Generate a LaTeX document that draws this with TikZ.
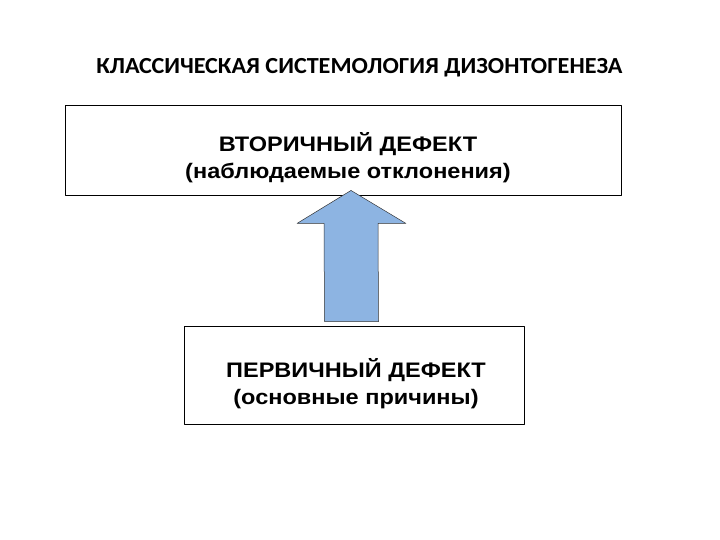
\documentclass[tikz,border=0pt]{standalone}
\usepackage{xcolor}
\usepackage{tikz}
\usepackage{fontspec}
\setmainfont{Liberation Sans}
\newfontfamily\titlefont[FakeStretch=1.05]{Carlito}
\newfontfamily\boxfont[FakeStretch=1.12]{Liberation Sans}
\usetikzlibrary{calc}
\definecolor{bluefill}{rgb}{0.553,0.706,0.886}
\definecolor{lineblk}{rgb}{0.,0.,0.}
\tikzstyle{every node}=[font=\boxfont\bfseries\fontsize{21}{27}\selectfont]
\tikzstyle{box}=[draw=lineblk,line width=0.9pt,inner sep=0pt]
\tikzstyle{boxtext}=[align=center,inner sep=0pt]

\begin{document}
\begin{tikzpicture}[line cap=round,line join=round,x=1pt,y=-1pt]
                    \useasboundingbox [fill=white] (0,0) rectangle (720,540);
                    \node [font=\titlefont\bfseries\fontsize{23}{26}\selectfont] (title) at (359.5,67.5) {КЛАССИЧЕСКАЯ СИСТЕМОЛОГИЯ ДИЗОНТОГЕНЕЗА};
                    \node [box,minimum width=556pt,minimum height=90pt] (secondary) at (343,150) {};
                    \node [boxtext] (secondarytext) at ($(secondary.center)+(5,8)$) {ВТОРИЧНЫЙ ДЕФЕКТ\\(наблюдаемые отклонения)};
                    \node [box,minimum width=340pt,minimum height=98pt] (primary) at (354,375) {};
                    \node [boxtext] (primarytext) at ($(primary.center)+(2,9)$) {ПЕРВИЧНЫЙ ДЕФЕКТ\\(основные причины)};
                    \coordinate (tail) at ($(primary.north)+(-2.5,-4)$);
                    \coordinate (tip) at ($(secondary.south)+(8,-5)$);
                    \draw [line width=0.5pt,draw=black!80,fill=bluefill] (tip) -- ($(tip)+(55,33)$) -- ($(tip)+(27,33)$) -- ($(tail)+(27,0)$) -- ($(tail)+(-27,0)$) -- ($(tip)+(-27,33)$) -- ($(tip)+(-54,33)$) -- cycle;
                    \end{tikzpicture}
\end{document}
